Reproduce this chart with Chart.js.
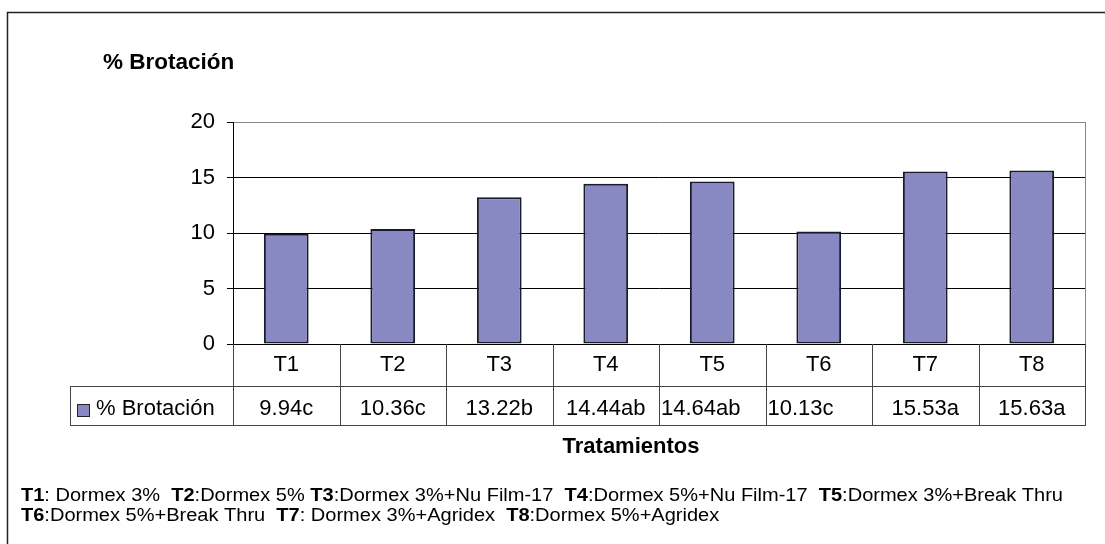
<!DOCTYPE html>
<html>
<head>
<meta charset="utf-8">
<script src="https://cdn.jsdelivr.net/npm/chart.js@4/dist/chart.umd.min.js"></script>
<style>
  html, body { margin: 0; padding: 0; background: #fff; }
  #wrap { width: 1105px; height: 544px; }
</style>
</head>
<body>
<div id="wrap"><canvas id="barChart" width="1105" height="544"></canvas></div>
<script>
const categories = ['T1', 'T2', 'T3', 'T4', 'T5', 'T6', 'T7', 'T8'];
const values = [9.94, 10.36, 13.22, 14.44, 14.64, 10.13, 15.53, 15.63];
const letters = ['c', 'c', 'b', 'ab', 'ab', 'c', 'a', 'a'];
const seriesName = '% Brotación';
const axisTitle = 'Tratamientos';
const yTicks = [0, 5, 10, 15, 20];

const notesLine1 = [
  ['T1', ': Dormex 3%  '], ['T2', ':Dormex 5% '], ['T3', ':Dormex 3%+Nu Film-17  '],
  ['T4', ':Dormex 5%+Nu Film-17  '], ['T5', ':Dormex 3%+Break Thru']
];
const notesLine2 = [
  ['T6', ':Dormex 5%+Break Thru  '], ['T7', ': Dormex 3%+Agridex  '], ['T8', ':Dormex 5%+Agridex']
];

const FONT = '"Liberation Sans", Arial, sans-serif';
const barFill = '#8888c2';

const tablePlugin = {
  id: 'tablePlugin',
  beforeDraw: (chart) => {
    const ctx = chart.ctx;
    ctx.save();
    ctx.fillStyle = '#fff';
    ctx.fillRect(0, 0, chart.width, chart.height);
    // outer frame (top + left visible)
    ctx.strokeStyle = '#222';
    ctx.lineWidth = 1.5;
    ctx.beginPath();
    ctx.moveTo(7.5, chart.height + 5);
    ctx.lineTo(7.5, 12.5);
    ctx.lineTo(chart.width + 5, 12.5);
    ctx.stroke();
    ctx.restore();
  },
  afterDraw: (chart) => {
    const ctx = chart.ctx;
    const x = chart.scales.x;
    const area = chart.chartArea;
    const colW = (area.right - area.left) / categories.length;
    const row1Bottom = area.bottom + 42;
    const row2Bottom = row1Bottom + 39;
    const legendLeft = 70;

    ctx.save();
    // plot right border
    ctx.strokeStyle = '#888';
    ctx.lineWidth = 1;
    ctx.beginPath();
    ctx.moveTo(area.right + 0.5, area.top);
    ctx.lineTo(area.right + 0.5, area.bottom);
    ctx.stroke();

    // table grid
    ctx.strokeStyle = '#444';
    ctx.beginPath();
    ctx.moveTo(legendLeft, row1Bottom + 0.5);
    ctx.lineTo(area.right + 1, row1Bottom + 0.5);
    ctx.moveTo(legendLeft, row2Bottom + 0.5);
    ctx.lineTo(area.right + 1, row2Bottom + 0.5);
    ctx.moveTo(legendLeft + 0.5, row1Bottom);
    ctx.lineTo(legendLeft + 0.5, row2Bottom);
    for (let k = 0; k <= categories.length; k++) {
      const lx = Math.round(area.left + k * colW) + 0.5;
      ctx.moveTo(lx, area.bottom);
      ctx.lineTo(lx, row2Bottom);
    }
    ctx.stroke();

    // row texts
    ctx.fillStyle = '#000';
    ctx.font = `22px ${FONT}`;
    ctx.textBaseline = 'alphabetic';
    categories.forEach((c, i) => {
      const cx = x.getPixelForValue(i);
      ctx.textAlign = 'center';
      ctx.fillText(c, cx, area.bottom + 27);
      const label = values[i].toFixed(2) + letters[i];
      if (i === 4 || i === 5) {
        ctx.textAlign = 'left';
        ctx.fillText(label, cx - colW / 2 + 2, row1Bottom + 29);
      } else {
        ctx.fillText(label, cx, row1Bottom + 29);
      }
    });

    // legend key
    ctx.fillStyle = barFill;
    ctx.fillRect(77, 404, 12, 12);
    ctx.strokeStyle = '#222';
    ctx.lineWidth = 1;
    ctx.strokeRect(77.5, 404.5, 12, 12);
    ctx.fillStyle = '#000';
    ctx.textAlign = 'left';
    ctx.fillText(seriesName, 96, row1Bottom + 29);

    // titles
    ctx.font = `bold 22.5px ${FONT}`;
    ctx.fillText(seriesName, 103, 69);
    ctx.font = `bold 22px ${FONT}`;
    ctx.textAlign = 'center';
    ctx.fillText(axisTitle, 631, 453);

    // footnote
    const fs = 18;
    const drawLine = (parts, y, sx) => {
      ctx.save();
      ctx.translate(21, y);
      ctx.scale(sx, 1);
      let px = 0;
      parts.forEach(([b, t]) => {
        ctx.font = `bold ${fs}px ${FONT}`;
        ctx.fillText(b, px, 0);
        px += ctx.measureText(b).width;
        ctx.font = `${fs}px ${FONT}`;
        ctx.fillText(t, px, 0);
        px += ctx.measureText(t).width;
      });
      ctx.restore();
    };
    ctx.textAlign = 'left';
    let w1 = 0;
    notesLine1.forEach(([b, t]) => {
      ctx.font = `bold ${fs}px ${FONT}`;
      w1 += ctx.measureText(b).width;
      ctx.font = `${fs}px ${FONT}`;
      w1 += ctx.measureText(t).width;
    });
    const sx = 1042 / w1;
    drawLine(notesLine1, 501, sx);
    drawLine(notesLine2, 521, sx);
    ctx.restore();
  }
};

const chart = new Chart(document.getElementById('barChart'), {
  type: 'bar',
  data: {
    labels: categories,
    datasets: [{
      label: seriesName,
      data: values,
      backgroundColor: barFill,
      borderColor: '#1a1a2c',
      borderWidth: 2,
      borderSkipped: false,
      categoryPercentage: 1,
      barPercentage: 0.42
    }]
  },
  options: {
    responsive: false,
    animation: false,
    devicePixelRatio: 1,
    layout: { padding: { left: 0, top: 122, right: 20, bottom: 200 } },
    plugins: { legend: { display: false }, tooltip: { enabled: false }, title: { display: false } },
    scales: {
      x: { display: false },
      y: {
        min: yTicks[0],
        max: yTicks[yTicks.length - 1],
        afterFit: (scale) => { scale.width = 233; },
        afterBuildTicks: (scale) => { scale.ticks = yTicks.map((v) => ({ value: v })); },
        ticks: { color: '#000', padding: 12, font: { family: FONT, size: 22 } },
        grid: {
          color: (c) => (c.tick && c.tick.value === 20 ? '#888' : '#000'),
          lineWidth: 1,
          tickLength: 6,
          tickColor: '#000'
        },
        border: { display: true, color: '#000', width: 1 }
      }
    }
  },
  plugins: [tablePlugin]
});
</script>
</body>
</html>
